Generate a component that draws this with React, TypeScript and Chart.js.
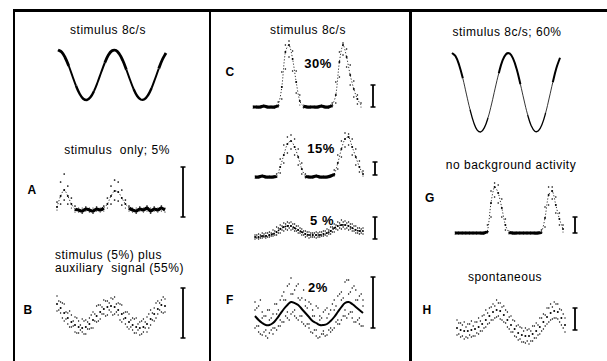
import React, { useEffect, useRef } from "react";
import { Chart, registerables } from "chart.js";

Chart.register(...registerables);

// ---------------- DATA ----------------
// time bins across two stimulus cycles (ms, 8 c/s -> 125 ms period)
const TIME_MS = [0, 8, 16, 24, 32, 40, 48, 56, 64, 72, 80, 88, 96, 104, 112, 120, 128, 136, 144, 152, 160, 168, 176, 184, 192, 200, 208, 216, 224, 232, 240];
// intermediate bins used for the scattered responses
const TIME_MID = [4, 12, 20, 28, 36, 44, 52, 60, 68, 76, 84, 92, 100, 108, 116, 124, 132, 140, 148, 156, 164, 172, 180, 188, 196, 204, 212, 220, 228, 236];

// stimulus waveform (relative amplitude)
const STIMULUS = [1, 0.92, 0.69, 0.36, -0.04, -0.43, -0.75, -0.95, -1, -0.89, -0.64, -0.29, 0.11, 0.49, 0.8, 0.97, 0.99, 0.85, 0.58, 0.21, -0.19, -0.56, -0.84, -0.98, -0.97, -0.81, -0.52, -0.14, 0.26, 0.62, 0.88];

// A: stimulus only; 5%
const A_CORE = [3, 14, 20, 14, 6, 1, 0, -1, 1, 0, -1, 1, 0, 2, 6, 14, 19, 18, 12, 6, 2, 0, -1, 1, 0, 2, -1, 1, 0, 2, 0];
const A_HI = [8, 28, 36, 24, 12, 4, 2, 2, 3, 2, 2, 3, 2, 4, 12, 24, 30, 28, 20, 10, 4, 2, 2, 3, 2, 4, 2, 3, 2, 4, 2];
const A_LO = [0, 6, 10, 6, 2, -2, -2, -3, -1, -2, -3, -1, -2, -1, 2, 6, 10, 9, 5, 2, -1, -2, -3, -1, -2, -1, -3, -1, -2, -1, -2];
const A_BAR = [-7, 43];

// B: stimulus (5%) plus auxiliary signal (55%)
const B_CORE = [26, 22, 17, 12, 8, 5, 3, 2, 3, 6, 10, 14, 18, 21, 23, 24, 23, 20, 16, 12, 8, 5, 3, 2, 3, 6, 11, 16, 21, 25, 24];
const B_HI = [34, 28, 26, 17, 15, 13, 9, 11, 10, 12, 18, 24, 25, 30, 29, 32, 33, 27, 25, 18, 16, 12, 12, 8, 11, 13, 20, 22, 29, 30, 31];
const B_LO = [19, 17, 9, 6, 3, -2, -3, -2, -4, 1, 2, 8, 11, 16, 15, 18, 16, 15, 8, 6, 1, 0, -3, -5, -2, -2, 5, 9, 16, 18, 18];
const B_MID_HI = [29, 27, 18, 19, 9, 12, 5, 9, 8, 15, 16, 25, 23, 29, 27, 31, 26, 26, 17, 18, 10, 11, 6, 9, 8, 16, 17, 27, 27, 33];
const B_MID_LO = [20, 12, 11, 3, 4, -3, 0, -4, 1, 2, 9, 9, 16, 14, 20, 15, 18, 10, 11, 3, 3, -3, 0, -4, 2, 2, 10, 12, 20, 17];
const B_BAR = [-8, 42];

// C: 30%
const C_CORE = [0, 0, 0, 1, 0, 0, 0, 2, 20, 55, 62, 48, 25, 6, 1, 0, 0, 0, 0, 1, 0, 0, 2, 12, 45, 62, 50, 32, 18, 8, 2];
const C_HI = [1, 1, 1, 2, 1, 1, 1, 5, 35, 62, 66, 56, 36, 12, 2, 1, 1, 1, 1, 2, 1, 1, 4, 25, 55, 64, 58, 42, 26, 12, 4];
const C_LO = [-1, -1, -1, 0, -1, -1, -1, 0, 8, 38, 50, 36, 14, 2, -1, -1, -1, -1, -1, 0, -1, -1, 0, 4, 30, 52, 40, 22, 10, 3, 0];
const C_BAR = [0, 22];

// D: 15%
const D_CORE = [0, 0, 1, 0, 0, 0, 1, 10, 22, 33, 36, 30, 20, 8, 1, 0, 0, 1, 0, 0, 0, 1, 3, 14, 28, 38, 40, 30, 20, 10, 3];
const D_HI = [1, 1, 2, 1, 1, 1, 3, 18, 32, 40, 42, 38, 28, 14, 3, 1, 1, 2, 1, 1, 1, 2, 7, 22, 36, 44, 43, 38, 28, 16, 6];
const D_LO = [-1, -1, 0, -1, -1, -1, 0, 4, 14, 24, 28, 22, 12, 3, -1, -1, -1, 0, -1, -1, -1, 0, 1, 8, 20, 30, 32, 22, 12, 5, 1];
const D_BAR = [2, 15];

// E: 5%
const E_CORE = [0, 0, 1, 1, 2, 3, 5, 8, 10, 11, 11, 9, 7, 5, 3, 2, 2, 2, 2, 3, 4, 6, 9, 11, 12, 12, 11, 9, 7, 6, 6];
const E_HI = [2, 3, 4, 4, 5, 7, 10, 12, 14, 15, 15, 13, 11, 8, 6, 5, 4, 5, 5, 6, 8, 10, 13, 15, 17, 16, 15, 13, 11, 9, 9];
const E_LO = [-2, -2, -1, -1, 0, 1, 2, 4, 6, 7, 7, 6, 4, 2, 0, -1, 0, -1, 0, 1, 1, 3, 5, 7, 8, 8, 7, 6, 4, 3, 3];
const E_MID_HI = [2, 2, 3, 4, 4, 6, 9, 11, 13, 14, 13, 11, 9, 6, 5, 4, 4, 4, 5, 6, 7, 10, 12, 14, 15, 14, 13, 11, 9, 8];
const E_MID_LO = [-1, -1, 0, 0, 1, 2, 4, 7, 8, 9, 8, 6, 4, 2, 1, 0, 0, 0, 1, 2, 3, 5, 8, 9, 10, 9, 8, 6, 4, 4];
const E_BAR = [-2, 20];

// F: 2% (fitted curve + responses)
const F_CURVE = [14, 10, 7, 5, 5, 7, 11, 16, 21, 25, 28, 27, 25, 21, 17, 13, 9, 7, 5, 5, 6, 9, 13, 18, 23, 27, 28, 26, 23, 20, 17];
const F_HI = [28, 24, 18, 14, 20, 16, 26, 30, 38, 44, 52, 40, 46, 32, 30, 28, 20, 24, 14, 18, 22, 20, 30, 34, 38, 48, 50, 42, 40, 34, 30];
const F_MID = [20, 4, 12, 0, 10, 2, 16, 10, 30, 18, 36, 20, 32, 14, 24, 6, 14, 0, 10, -1, 12, 2, 20, 10, 30, 20, 36, 18, 30, 12, 24];
const F_LO = [2, -2, -5, -6, -3, -4, 0, 4, 8, 12, 16, 14, 10, 8, 4, 2, -3, -6, -7, -4, -5, -2, 2, 6, 10, 14, 16, 12, 8, 6, 4];
const F_MID_HI = [22, 30, 14, 20, 12, 26, 20, 34, 30, 46, 36, 44, 30, 40, 22, 26, 14, 22, 12, 20, 16, 26, 24, 36, 32, 50, 38, 44, 30, 36];
const F_MID_LO = [4, -4, -2, -8, 0, 2, 4, 8, 14, 10, 18, 12, 14, 6, 6, -2, 0, -8, -4, -6, 0, 0, 8, 6, 14, 12, 18, 8, 10, 4];
const F_BAR = [2, 53];

// G: no background activity
const G_CORE = [0, 0, 0, 0, 0, 0, 0, 0, 0, 2, 30, 46, 40, 25, 8, 1, 0, 0, 0, 0, 0, 0, 0, 0, 1, 15, 38, 42, 28, 14, 4];
const G_HI = [1, 1, 1, 1, 1, 1, 1, 1, 1, 8, 42, 50, 48, 34, 14, 2, 1, 1, 1, 1, 1, 1, 1, 1, 3, 26, 46, 46, 36, 20, 8];
const G_LO = [-1, -1, -1, -1, -1, -1, -1, -1, -1, 0, 16, 36, 30, 16, 3, -1, -1, -1, -1, -1, -1, -1, -1, -1, 0, 6, 28, 34, 20, 8, 1];
const G_BAR = [0, 16];

// H: spontaneous
const H_CORE = [12, 10, 9, 9, 10, 11, 13, 16, 20, 24, 28, 30, 29, 25, 20, 15, 11, 7, 5, 4, 4, 6, 9, 13, 18, 23, 27, 29, 28, 22, 15];
const H_HI = [20, 17, 18, 16, 19, 18, 22, 24, 30, 32, 36, 40, 37, 34, 28, 24, 19, 15, 12, 12, 11, 14, 17, 22, 26, 32, 36, 38, 36, 30, 22];
const H_LO = [5, 3, 1, 2, 3, 4, 6, 9, 13, 17, 20, 23, 21, 18, 13, 8, 4, 0, -2, -3, -4, -1, 2, 6, 11, 16, 20, 22, 21, 15, 8];
const H_MID_HI = [17, 15, 13, 16, 14, 18, 19, 25, 27, 33, 34, 37, 33, 30, 23, 20, 14, 13, 9, 10, 9, 14, 15, 22, 25, 32, 33, 36, 31, 26];
const H_MID_LO = [6, 4, 3, 5, 4, 7, 9, 12, 16, 20, 22, 24, 20, 17, 11, 8, 3, 1, -2, -1, -1, 2, 5, 9, 14, 18, 21, 22, 18, 12];
const H_BAR = [10, 32];

// labels
const TRACE_LETTERS = ["A", "B", "C", "D", "E", "F", "G", "H"];
const PERCENTS = ["30%", "15%", "5 %", "2%"];

// ---------------- LAYOUT / STYLE ----------------
const FONT = "'Liberation Sans', Arial, Helvetica, sans-serif";
const PX_PER_MS = 0.45;
const PAD = 8;

type Box = { left: number; right: number; top: number; bottom: number; yLo: number; yHi: number };

function unitBox(left: number, baseline: number, yLo: number, yHi: number, right: number): Box {
  return { left, right, top: baseline - yHi, bottom: baseline - yLo, yLo, yHi };
}

const pts = (vals: number[]) => vals.map((v, i) => ({ x: TIME_MS[i], y: v }));
const ptsMid = (vals: number[]) => vals.map((v, i) => ({ x: TIME_MID[i], y: v }));

function stimulusSet(vals: number[], thick: number, thin: number, trough: number) {
  return {
    data: pts(vals),
    showLine: true,
    borderColor: "#000",
    pointRadius: 0,
    tension: 0.4,
    borderWidth: thick,
    segment: {
      borderWidth: (c: any) => {
        const a = c.p0.parsed.y;
        const b = c.p1.parsed.y;
        if (a > 0.55 || b > 0.55) return thick;
        if (a < -0.7 || b < -0.7) return trough;
        return thin;
      },
    },
    clip: false,
  };
}

function baseLineSet(vals: number[]) {
  const low = (c: any) => Math.max(c.p0.parsed.y, c.p1.parsed.y) < 4;
  return {
    data: pts(vals),
    showLine: true,
    borderColor: "#000",
    backgroundColor: "#000",
    pointRadius: (c: any) => (c.raw && c.raw.y < 3 ? 0 : 1.0),
    pointBorderWidth: 0,
    tension: 0.3,
    segment: {
      borderWidth: (c: any) => (low(c) ? 3.2 : 0.8),
      borderDash: (c: any) => (low(c) ? [] : [1.2, 1.8]),
    },
    clip: false,
  };
}

function bandLineSet(vals: number[], width: number) {
  return {
    data: pts(vals),
    showLine: true,
    borderColor: "#000",
    backgroundColor: "#000",
    borderWidth: width,
    borderDash: [1.5, 1.2],
    pointRadius: 0.9,
    pointBorderWidth: 0,
    tension: 0.3,
    clip: false,
  };
}

function curveSet(vals: number[]) {
  return {
    data: pts(vals),
    showLine: true,
    borderColor: "#000",
    borderWidth: 2,
    pointRadius: 0,
    tension: 0.4,
    clip: false,
  };
}

function dotSet(data: { x: number; y: number }[], r = 0.9, lowR = 0.9) {
  return {
    data,
    showLine: false,
    backgroundColor: "#000",
    borderColor: "#000",
    pointRadius: (c: any) => (c.raw && Math.abs(c.raw.y) < 2.5 ? lowR : r),
    pointBorderWidth: 0,
    clip: false,
  };
}

function barSet(range: number[], tBar: number) {
  return {
    data: [
      { x: tBar, y: range[0] },
      { x: tBar, y: range[1] },
    ],
    showLine: true,
    borderColor: "#000",
    borderWidth: 1.8,
    pointStyle: "line",
    pointRadius: 2.5,
    pointBorderWidth: 1.5,
    pointBorderColor: "#000",
    clip: false,
  };
}

function TraceChart({ box, sets }: { box: Box; sets: () => any[] }) {
  const ref = useRef<HTMLCanvasElement>(null);
  const w = box.right - box.left + 2 * PAD;
  const h = box.bottom - box.top + 2 * PAD;
  useEffect(() => {
    const tMax = (box.right - box.left) / PX_PER_MS;
    const chart = new Chart(ref.current as HTMLCanvasElement, {
      type: "scatter",
      data: { datasets: sets() },
      options: {
        animation: false,
        responsive: false,
        devicePixelRatio: 1,
        events: [],
        layout: { padding: PAD },
        plugins: { legend: { display: false }, tooltip: { enabled: false } },
        scales: {
          x: { type: "linear", display: false, min: 0, max: tMax },
          y: { type: "linear", display: false, min: box.yLo, max: box.yHi },
        },
      } as any,
    });
    return () => chart.destroy();
  }, []);
  return (
    <canvas
      ref={ref}
      width={w}
      height={h}
      style={{ position: "absolute", left: box.left - PAD, top: box.top - PAD, width: w, height: h }}
    />
  );
}

function Label({ text, x, y, align = "center", bold = false, size = 12 }: any) {
  return (
    <div
      style={{
        position: "absolute",
        left: x,
        top: y,
        transform: align === "center" ? "translate(-50%, -50%)" : "translate(0, -50%)",
        fontFamily: FONT,
        fontSize: size,
        fontWeight: bold ? 700 : 400,
        letterSpacing: 0.5,
        whiteSpace: "pre",
        lineHeight: 1,
        color: "#000",
      }}
    >
      {text}
    </div>
  );
}

const barT = (left: number, x: number) => (x - left) / PX_PER_MS;

export default function App() {
  const line = (l: number, t: number, w: number, h: number) => (
    <div style={{ position: "absolute", left: l, top: t, width: w, height: h, background: "#000" }} />
  );
  return (
    <div style={{ position: "fixed", left: 0, top: 0, width: 607, height: 361, background: "#fff", overflow: "hidden" }}>
      {line(13, 9, 594, 2.5)}
      {line(13, 9, 2.2, 352)}
      {line(209, 9, 2.2, 352)}
      {line(409, 9, 3, 352)}

      {/* panel 1 */}
      <Label text="stimulus 8c/s" x={108} y={30} />
      <TraceChart
        box={{ left: 58, right: 166, top: 50, bottom: 100, yLo: -1, yHi: 1 }}
        sets={() => [stimulusSet(STIMULUS, 2.8, 2, 2.4)]}
      />
      <Label text="stimulus  only; 5%" x={117} y={150} />
      <Label text={TRACE_LETTERS[0]} x={32} y={190} bold />
      <TraceChart
        box={unitBox(57, 210, -10, 45, 183)}
        sets={() => [baseLineSet(A_CORE), dotSet(pts(A_HI), 0.85, 0.6), dotSet(pts(A_LO), 0.85, 0.6), barSet(A_BAR, barT(57, 183))]}
      />
      <Label text="stimulus (5%) plus" x={55} y={255} align="left" />
      <Label text="auxiliary  signal (55%)" x={55} y={268} align="left" />
      <Label text={TRACE_LETTERS[1]} x={28} y={310} bold />
      <TraceChart
        box={unitBox(57, 330, -10, 45, 183)}
        sets={() => [
          dotSet(pts(B_CORE), 1.0, 1.0),
          dotSet(pts(B_HI), 0.7, 0.7),
          dotSet(pts(B_LO), 0.7, 0.7),
          dotSet(ptsMid(B_MID_HI), 0.75, 0.75),
          dotSet(ptsMid(B_MID_LO), 0.75, 0.75),
          barSet(B_BAR, barT(57, 183)),
        ]}
      />

      {/* panel 2 */}
      <Label text="stimulus 8c/s" x={308} y={30} />
      <Label text={TRACE_LETTERS[2]} x={230} y={72} bold />
      <Label text={PERCENTS[0]} x={318} y={63} bold size={13} />
      <TraceChart
        box={unitBox(253, 107, -5, 70, 373)}
        sets={() => [baseLineSet(C_CORE), dotSet(pts(C_HI), 0.8, 0.5), dotSet(pts(C_LO), 0.8, 0.5), barSet(C_BAR, barT(253, 373))]}
      />
      <Label text={TRACE_LETTERS[3]} x={230} y={160} bold />
      <Label text={PERCENTS[1]} x={321} y={148} bold size={13} />
      <TraceChart
        box={unitBox(255, 177, -5, 48, 375)}
        sets={() => [baseLineSet(D_CORE), dotSet(pts(D_HI), 0.8, 0.5), dotSet(pts(D_LO), 0.8, 0.5), barSet(D_BAR, barT(255, 375))]}
      />
      <Label text={TRACE_LETTERS[4]} x={230} y={230} bold />
      <Label text={PERCENTS[2]} x={322} y={220} bold size={13} />
      <TraceChart
        box={unitBox(255, 237, -5, 22, 375)}
        sets={() => [
          bandLineSet(E_CORE, 1.6),
          dotSet(pts(E_HI), 0.7, 0.7),
          dotSet(pts(E_LO), 0.7, 0.7),
          dotSet(ptsMid(E_MID_HI), 0.75, 0.75),
          dotSet(ptsMid(E_MID_LO), 0.75, 0.75),
          barSet(E_BAR, barT(255, 375)),
        ]}
      />
      <Label text={TRACE_LETTERS[5]} x={230} y={300} bold />
      <Label text={PERCENTS[3]} x={318} y={287} bold size={13} />
      <TraceChart
        box={unitBox(255, 330, -10, 56, 373)}
        sets={() => [
          curveSet(F_CURVE),
          dotSet(pts(F_HI), 0.75, 0.75),
          dotSet(pts(F_MID), 0.75, 0.75),
          dotSet(pts(F_LO), 0.75, 0.75),
          dotSet(ptsMid(F_MID_HI), 0.75, 0.75),
          dotSet(ptsMid(F_MID_LO), 0.75, 0.75),
          barSet(F_BAR, barT(255, 373)),
        ]}
      />

      {/* panel 3 */}
      <Label text="stimulus 8c/s; 60%" x={507} y={32} />
      <TraceChart
        box={{ left: 452, right: 562, top: 53, bottom: 132, yLo: -1, yHi: 1 }}
        sets={() => [stimulusSet(STIMULUS, 2, 0.8, 1.3)]}
      />
      <Label text="no background activity" x={511} y={165} />
      <Label text={TRACE_LETTERS[6]} x={430} y={198} bold />
      <TraceChart
        box={unitBox(455, 233, -5, 52, 575)}
        sets={() => [baseLineSet(G_CORE), dotSet(pts(G_HI), 0.8, 0.5), dotSet(pts(G_LO), 0.8, 0.5), barSet(G_BAR, barT(455, 575))]}
      />
      <Label text="spontaneous" x={505} y={277} />
      <Label text={TRACE_LETTERS[7]} x={427} y={310} bold />
      <TraceChart
        box={unitBox(457, 340, -6, 42, 575)}
        sets={() => [
          dotSet(pts(H_CORE), 1.0, 1.0),
          dotSet(pts(H_HI), 0.7, 0.7),
          dotSet(pts(H_LO), 0.7, 0.7),
          dotSet(ptsMid(H_MID_HI), 0.75, 0.75),
          dotSet(ptsMid(H_MID_LO), 0.75, 0.75),
          barSet(H_BAR, barT(457, 575)),
        ]}
      />
    </div>
  );
}
